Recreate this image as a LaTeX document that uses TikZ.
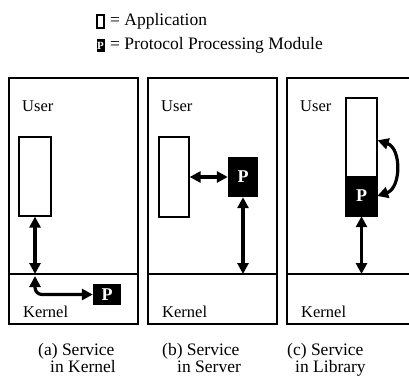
\documentclass[tikz,border=0pt]{standalone}
\usepackage{fontspec}
\setmainfont{Liberation Serif}
\usetikzlibrary{arrows.meta}
\usetikzlibrary{calc}

\tikzset{
  panel/.style={line width=1.3pt},
  appbox/.style={draw, line width=1.2pt, fill=white, minimum width=31pt, inner sep=0pt},
  pbox/.style={fill=black, text=white, inner sep=0pt, font=\fontsize{18}{18}\selectfont\bfseries},
  link/.style={line width=3.2pt, {Triangle[length=11pt,width=11pt]}-{Triangle[length=11pt,width=11pt]}},
  areatext/.style={inner sep=0pt, anchor=base west, font=\fontsize{16.5}{16.5}\selectfont},
  captext/.style={inner sep=0pt, anchor=north west, align=left, font=\fontsize{17.5}{17.5}\selectfont},
  legtext/.style={inner sep=0pt, anchor=base west, font=\fontsize{17.5}{17.5}\selectfont}
}

\begin{document}
\begin{tikzpicture}[x=1pt, y=-1pt]
  \clip (0,0) rectangle (409,387);

  % legend
  \node[draw, line width=1.2pt, minimum width=7pt, minimum height=13pt, inner sep=0pt] (legapp) at (100.5,21.5) {};
  \node[legtext] (legapptext) at (110,26) {= Application};
  \node[fill=black, text=white, minimum width=8pt, minimum height=13pt, inner sep=0pt,
        font=\fontsize{11}{11}\selectfont\bfseries] (legp) at (100.5,45.5) {P};
  \node[legtext] (legptext) at (110,50) {= Protocol Processing Module};

  % panels with user / kernel areas
  \foreach \x/\n in {9/a, 148/b, 287/c} {
    \draw[panel] (\x,78) rectangle ++(129,246);
    \draw[panel] (\x,274) -- ++(129,0);
    \node[areatext] (user\n) at (\x+13,112) {User};
    \node[areatext] (kernel\n) at (\x+14,317) {Kernel};
  }

  % (a) service in kernel
  \node[appbox, minimum width=32pt, minimum height=79pt] (appa) at (35,176.5) {};
  \node[pbox, minimum width=28pt, minimum height=21pt] (pa) at (107,294.5) {P};
  \coordinate (ka) at (35,274);
  \coordinate (kad) at (35,276);
  \draw[link] (appa.south) -- (ka);
  \draw[link, rounded corners=7pt] (kad) |- (pa.west);

  % (b) service in server
  \node[appbox, minimum width=30pt, minimum height=80pt] (appb) at (174,177) {};
  \node[pbox, minimum width=30pt, minimum height=40pt] (pb) at (243,177) {P};
  \coordinate (kb) at (243,274);
  \draw[link] (appb) -- (pb);
  \draw[link] (pb) -- (kb);

  % (c) service in library
  \node[appbox, minimum height=118pt] (appc) at (361.5,157) {};
  \node[pbox, minimum width=31pt, minimum height=40pt] (pc) at (361.5,196) {P};
  \coordinate (kc) at (361.5,274);
  \coordinate (cin) at ($(appc.north east)!0.36!(appc.south east)$);
  \draw[link] (pc) -- (kc);
  \draw[link] (cin) .. controls +(24,8) and +(24,-8) .. (pc.east);

  % captions
  \node[captext] (capa) at (38,343) {(a) Service\\\hspace*{12pt}in Kernel};
  \node[captext] (capb) at (162,343) {(b) Service\\\hspace*{15pt}in Server};
  \node[captext] (capc) at (287,343) {(c) Service\\\hspace*{8pt}in Library};
\end{tikzpicture}
\end{document}
